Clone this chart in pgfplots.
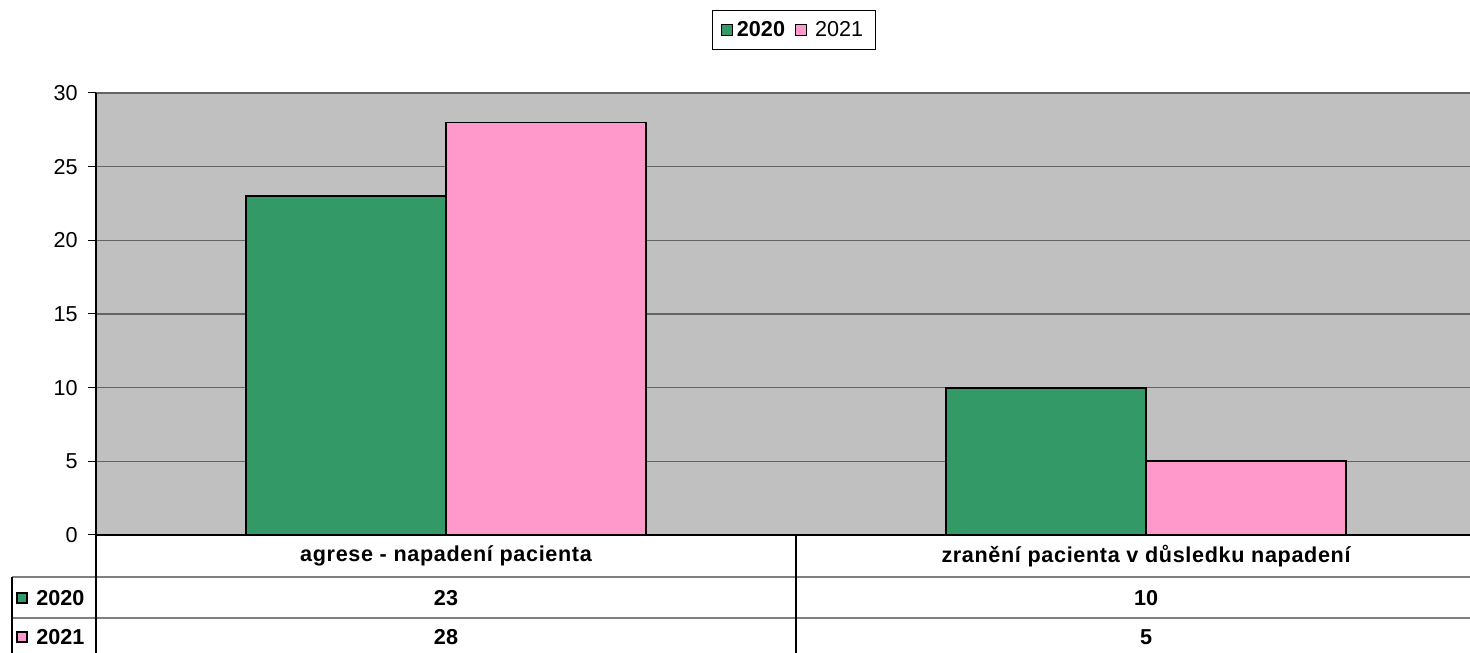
\documentclass[border=0pt]{standalone}
\usepackage{fontspec}
\setmainfont{Liberation Sans}
\usepackage{pgfplots}
\pgfplotsset{compat=1.18}
\definecolor{cGreen}{RGB}{51,153,102}
\definecolor{cPink}{RGB}{255,153,204}
\definecolor{cBg}{RGB}{192,192,192}
\definecolor{cGrid}{RGB}{100,100,100}
\definecolor{cTab}{RGB}{128,128,128}
\newcommand{\fs}{\fontsize{10.8bp}{13bp}\selectfont}
\begin{document}
\begin{tikzpicture}
\begin{axis}[
  at={(0,0)}, anchor=south west,
  scale only axis,
  width=687bp, height=221bp,
  xmin=-0.5, xmax=1.463,
  ymin=0, ymax=30,
  ytick={0,5,...,30},
  xtick=\empty,
  axis lines=left,
  axis line style={-, black, line width=0.6bp},
  tick align=outside,
  major tick length=4bp,
  ytick style={black, line width=0.5bp},
  ymajorgrids,
  major grid style={cGrid, line width=0.6bp},
  axis background/.style={fill=cBg},
  ybar=0pt,
  bar width=0.2857,
  /pgf/number format/assume math mode=true,
  ticklabel style={font=\fs},
  yticklabel style={inner sep=0pt, xshift=-5bp},
  legend columns=2,
  legend style={at={(0.508,1.1425)}, anchor=center, draw=black, line width=0.5bp,
    font=\fs, inner xsep=4bp, inner ysep=3bp,
    /tikz/every even column/.append style={column sep=3bp}},
  legend image code/.code={\draw[#1, draw=black, line width=0.7bp] (0bp,-2.7bp) rectangle (5.4bp,2.7bp);},
]
\addplot[fill=cGreen, draw=black, line width=0.9bp] coordinates {(0,23) (1,10)};
\addplot[fill=cPink, draw=black, line width=0.9bp] coordinates {(0,28) (1,5)};
\legend{\textbf{2020}, \hspace{2bp}2021}
\end{axis}
\begin{scope}[x=0.5bp, y=-0.5bp, shift={(-96,-535)}]
  \draw[cTab, line width=0.7bp] (12,577) -- (1470,577);
  \draw[cTab, line width=0.7bp] (12,618) -- (1470,618);
  \draw[black, line width=0.6bp] (12,577) -- (12,653);
  \draw[black, line width=0.6bp] (796,535) -- (796,653);
  \draw[black, line width=0.6bp] (96,93) -- (96,653);
  \node[font=\fs\bfseries\addfontfeature{LetterSpace=3}] at (446,556) {agrese - napadení pacienta};
  \node[font=\fs\bfseries\addfontfeature{LetterSpace=3}] at (1146,556) {zranění pacienta v důsledku napadení};
  \node[font=\fs\bfseries] at (446,598) {23};
  \node[font=\fs\bfseries] at (1146,598) {10};
  \node[font=\fs\bfseries] at (446,637) {28};
  \node[font=\fs\bfseries] at (1146,637) {5};
  \draw[fill=cGreen, draw=black, line width=0.7bp] (17,593) rectangle (27,603);
  \node[font=\fs\bfseries, anchor=west, inner sep=0pt] at (36,598) {2020};
  \draw[fill=cPink, draw=black, line width=0.7bp] (17,632) rectangle (27,642);
  \node[font=\fs\bfseries, anchor=west, inner sep=0pt] at (36,637) {2021};
  \pgfresetboundingbox
  \path[use as bounding box] (0,0) rectangle (1470,653);
\end{scope}
\end{tikzpicture}
\end{document}
